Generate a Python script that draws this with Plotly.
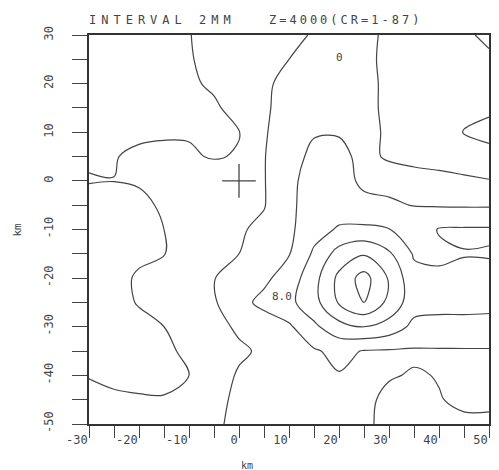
import plotly.graph_objects as go

# Grid (km) on which the field is sampled
x_km = [-30, -25, -20, -15, -10, -5, 0, 5, 10, 15, 20, 25, 30, 35, 40, 45, 50]
y_km = [30, 25, 20, 15, 10, 5, 0, -5, -10, -15, -20, -25, -30, -35, -40, -45, -50]

# Field values, one row per y (top row first)
row_p30 = [2.5, 3.0, 3.2, 3.5, 3.95, 4.5, 5.0, 5.4, 5.7, 6.1, 7.0, 7.6, 8.3, 8.7, 9.0, 9.6, 10.5]
row_p25 = [2.8, 3.0, 3.3, 3.6, 3.9, 4.4, 5.0, 5.5, 6.0, 6.6, 7.2, 7.7, 8.3, 8.6, 8.8, 9.0, 9.6]
row_p20 = [3.0, 3.2, 3.4, 3.6, 3.8, 4.2, 5.0, 5.7, 6.5, 7.0, 7.3, 7.6, 8.3, 8.6, 8.8, 9.1, 9.4]
row_p15 = [3.2, 3.4, 3.5, 3.6, 3.7, 3.8, 4.5, 5.7, 6.8, 7.2, 7.4, 7.6, 8.3, 8.7, 8.9, 9.3, 9.7]
row_p10 = [3.4, 3.5, 3.8, 3.85, 3.9, 3.8, 3.95, 5.8, 7.1, 7.9, 7.95, 7.6, 8.2, 8.6, 9.0, 10.1, 10.5]
row_p05 = [3.9, 3.95, 4.2, 4.3, 4.15, 3.9, 4.1, 5.9, 7.5, 8.3, 8.2, 7.8, 8.1, 8.3, 8.4, 8.6, 9.4]
row_000 = [4.05, 4.01, 4.1, 4.4, 4.6, 4.8, 5.2, 5.9, 7.6, 8.7, 8.6, 7.7, 7.6, 7.6, 7.7, 7.8, 7.9]
row_m05 = [3.6, 3.7, 3.75, 4.15, 4.7, 5.1, 5.5, 5.9, 7.6, 8.9, 9.1, 8.4, 8.2, 7.95, 7.85, 7.8, 7.8]
row_m10 = [3.3, 3.5, 3.8, 4.0, 4.7, 5.3, 5.8, 6.4, 7.6, 9.3, 10.2, 10.4, 10.05, 9.4, 10.1, 10.2, 10.2]
row_m15 = [3.1, 3.4, 3.7, 3.95, 4.6, 5.3, 6.0, 7.0, 7.9, 10.3, 12.8, 13.8, 12.3, 9.8, 9.7, 9.95, 9.9]
row_m20 = [3.0, 3.5, 4.2, 4.8, 5.3, 5.95, 6.8, 7.6, 8.9, 11.3, 14.5, 16.8, 13.8, 10.6, 10.3, 10.3, 10.4]
row_m25 = [3.1, 3.5, 4.1, 4.7, 5.2, 5.8, 7.4, 8.5, 9.5, 11.3, 14.2, 16.0, 13.5, 10.8, 10.4, 10.3, 10.25]
row_m30 = [3.0, 3.3, 3.6, 4.0, 4.6, 5.4, 6.3, 7.0, 7.7, 9.6, 11.3, 12.0, 11.2, 9.5, 9.6, 9.7, 9.7]
row_m35 = [2.9, 3.2, 3.5, 3.8, 4.2, 5.0, 5.7, 6.3, 7.0, 7.8, 8.5, 7.9, 7.8, 7.8, 7.8, 7.8, 7.8]
row_m40 = [3.95, 3.8, 3.7, 3.8, 4.0, 5.1, 6.2, 6.8, 7.2, 7.5, 7.9, 7.6, 7.9, 8.1, 7.95, 7.8, 7.8]
row_m45 = [4.3, 4.15, 4.1, 4.05, 4.6, 5.6, 6.3, 6.8, 7.1, 7.3, 7.5, 7.7, 8.3, 8.4, 8.05, 7.8, 7.8]
row_m50 = [4.5, 4.4, 4.3, 4.4, 4.9, 5.8, 6.3, 6.8, 7.1, 7.3, 7.5, 7.8, 8.3, 8.4, 8.3, 8.2, 8.2]

z_rows = [row_p30, row_p25, row_p20, row_p15, row_p10, row_p05, row_000, row_m05,
          row_m10, row_m15, row_m20, row_m25, row_m30, row_m35, row_m40, row_m45, row_m50]

# Contour interval and level range
level_start, level_end, level_step = 4, 16, 2

# Axis ticks
x_ticks = [-30, -25, -20, -15, -10, -5, 0, 5, 10, 15, 20, 25, 30, 35, 40, 45, 50]
x_ticktext = ["-30", "", "-20", "", "-10", "", "0", "", "10", "", "20", "", "30", "", "40", "", "50"]
y_ticks = [30, 25, 20, 15, 10, 5, 0, -5, -10, -15, -20, -25, -30, -35, -40, -45, -50]
y_ticktext = ["30", "", "20", "", "10", "", "0", "", "-10", "", "-20", "", "-30", "", "-40", "", "-50"]

# Reference point and contour label
origin_x, origin_y = [0], [0]
label_text, label_x, label_y = "8.0", 8.6, -23.8

ink = "#444444"
mono = "DejaVu Sans Mono"

fig = go.Figure()
fig.add_trace(go.Contour(
    x=x_km, y=y_km, z=z_rows,
    contours=dict(coloring="lines", start=level_start, end=level_end, size=level_step),
    colorscale=[[0, ink], [1, ink]],
    line=dict(width=1.2, smoothing=1.0),
    showscale=False, hoverinfo="skip",
))
fig.add_trace(go.Scatter(
    x=origin_x, y=origin_y, mode="markers",
    marker=dict(symbol="cross-thin", size=24, line=dict(width=1.3, color=ink)),
    hoverinfo="skip", showlegend=False,
))

fig.add_annotation(x=label_x, y=label_y, text=label_text, showarrow=False,
                   font=dict(family=mono, size=11, color=ink), bgcolor="white")
fig.add_annotation(x=20, y=25.4, text="0", showarrow=False,
                   font=dict(family=mono, size=11, color=ink))

# Heading
fig.add_annotation(xref="paper", yref="paper", x=-0.005, y=1.0, yshift=6,
                   xanchor="left", yanchor="bottom", showarrow=False,
                   text='<span style="letter-spacing:5px">INTERVAL 2MM</span>',
                   font=dict(family=mono, size=12, color=ink))
fig.add_annotation(xref="paper", yref="paper", x=0.445, y=1.0, yshift=6,
                   xanchor="left", yanchor="bottom", showarrow=False,
                   text='<span style="letter-spacing:3px">Z=4000(CR=1-87)</span>',
                   font=dict(family=mono, size=12, color=ink))

# Axis titles
fig.add_annotation(xref="paper", yref="paper", x=0.395, y=0, yshift=-34,
                   xanchor="center", yanchor="top", showarrow=False, text="km",
                   font=dict(family=mono, size=10, color=ink))
fig.add_annotation(xref="paper", yref="paper", x=0, xshift=-72, y=0.50,
                   xanchor="center", yanchor="middle", showarrow=False, text="km",
                   textangle=-90, font=dict(family=mono, size=11, color=ink))

axis_common = dict(
    showgrid=False, zeroline=False, showline=True, mirror=True,
    linecolor="#333333", linewidth=1.5, ticks="outside", tickcolor=ink, tickwidth=1.2,
    tickfont=dict(family=mono, size=12, color=ink),
)
fig.update_xaxes(range=[-30, 50], tickmode="array", tickvals=x_ticks, ticktext=x_ticktext,
                 ticklen=12, ticklabelposition="outside left", ticklabelstandoff=4,
                 **axis_common)
fig.update_yaxes(range=[-50, 30], tickmode="array", tickvals=y_ticks, ticktext=y_ticktext,
                 ticklen=15, tickangle=-90, ticklabelstandoff=14, **axis_common)

fig.update_layout(
    width=499, height=470,
    margin=dict(l=89, r=8, t=35, b=46),
    paper_bgcolor="white", plot_bgcolor="white",
    showlegend=False,
)

fig.write_html("out.html")
